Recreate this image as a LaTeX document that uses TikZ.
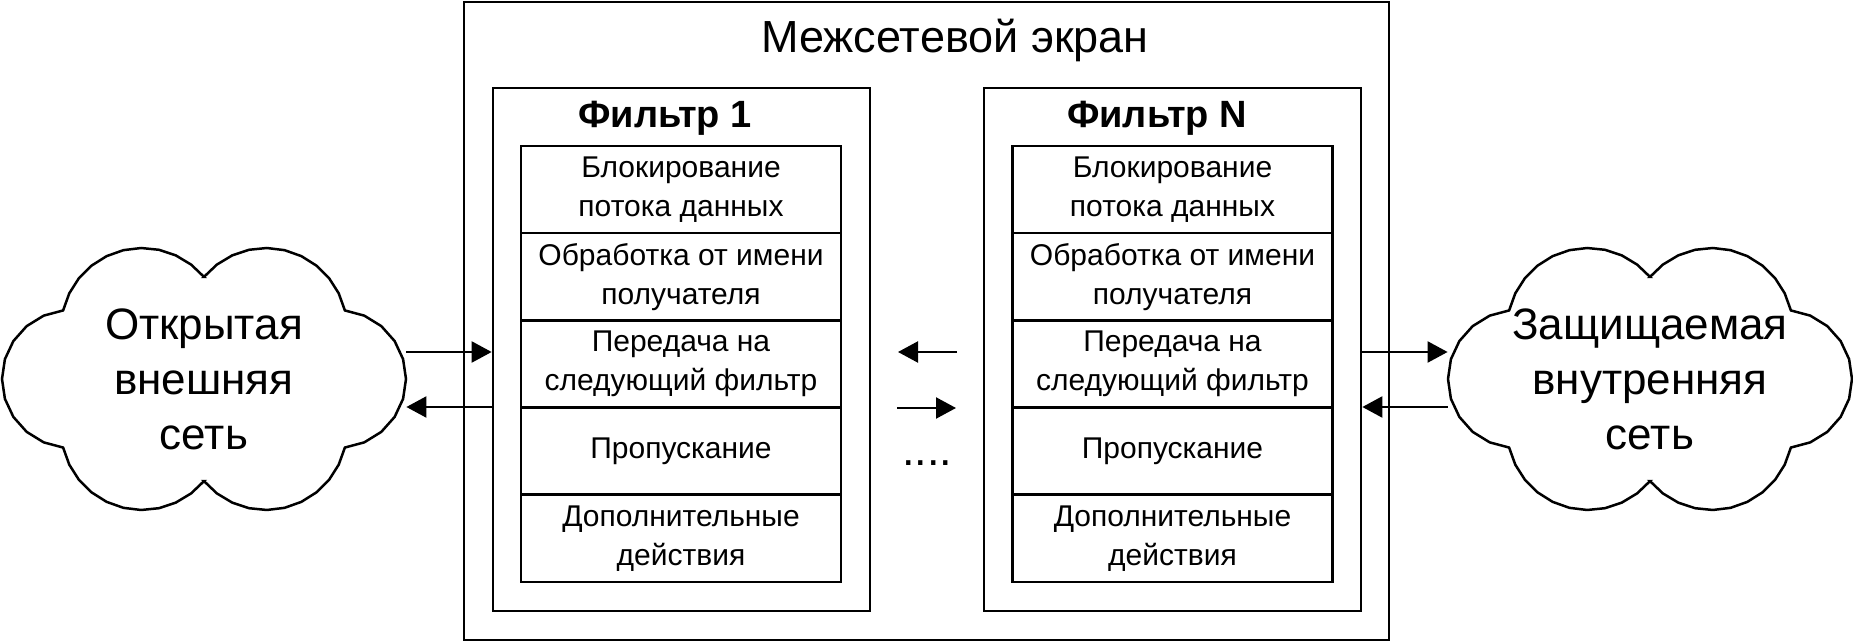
\documentclass[tikz,border=0pt]{standalone}
\usepackage{fontspec}
\setmainfont{Liberation Sans}
\usetikzlibrary{arrows.meta}
\newcommand\cloudoutline[1]{%
\draw[cloudline,shift={(#1)}]
 plot[domain=193.5:320,samples=11] ({-62+81*cos(\x)},{-50+81*sin(\x)})
 -- plot[domain=-140:-13.5,samples=11] ({62+81*cos(\x)},{-50+81*sin(\x)})
 -- plot[domain=-83.4:83.4,samples=11] ({133+69*cos(\x)},{69*sin(\x)})
 -- plot[domain=13.5:140,samples=11] ({62+81*cos(\x)},{50+81*sin(\x)})
 -- plot[domain=40:166.5,samples=11] ({-62+81*cos(\x)},{50+81*sin(\x)})
 -- plot[domain=96.6:263.4,samples=11] ({-133+69*cos(\x)},{69*sin(\x)})
 -- cycle;}
\begin{document}
\begin{tikzpicture}[x=0.5pt,y=-0.5pt,
  box/.style={draw, line width=1.35pt, inner sep=0pt},
  row/.style={draw, line width=1.35pt, minimum width=160pt, minimum height=43.6pt, inner sep=0pt, align=center, font=\fontsize{15}{19.5}\selectfont},
  arr/.style={line width=1.1pt, -{Triangle[length=10pt,width=10.5pt]}},
  cloudtext/.style={minimum width=202pt, minimum height=131pt, inner sep=0pt, align=center, font=\fontsize{22}{27.5}\selectfont},
  cloudline/.style={line width=1.25pt, line join=miter},
  bigtext/.style={font=\fontsize{22.5}{26}\selectfont, inner sep=0pt},
  head/.style={font=\fontsize{19}{22}\selectfont\bfseries, inner sep=0pt}
]
\useasboundingbox (0,0) rectangle (1853,641);
% firewall
\node[box, minimum width=462.5pt, minimum height=319pt] (fw) at (926.5,321) {};
\node[bigtext, anchor=base] (title) at (955,53) {Межсетевой экран};
% filters
\node[box, minimum width=188.5pt, minimum height=261.5pt] (f1) at (681.5,349.5) {};
\node[box, minimum width=188.5pt, minimum height=261.5pt] (fN) at (1172.5,349.5) {};
\node[head, anchor=base] (h1) at (665,128) {Фильтр 1};
\node[head, anchor=base] (hN) at (1157,128) {Фильтр N};
\foreach \f/\cx in {a/681, b/1172.5} {
  \node[row] (\f1) at (\cx,189.5) {Блокирование\\потока данных};
  \node[row] (\f2) at (\cx,276.7) {Обработка от имени\\получателя};
  \node[row] (\f3) at (\cx,363.9) {Передача на\\следующий фильтр};
  \node[row] (\f4) at (\cx,451.1) {Пропускание};
  \node[row] (\f5) at (\cx,538.3) {Дополнительные\\действия};
}
% clouds
\node[cloudtext] (net1) at (204,379) {Открытая\\внешняя\\сеть};
\node[cloudtext] (net2) at (1650,379) {Защищаемая\\внутренняя\\сеть};
\cloudoutline{net1.center}
\cloudoutline{net2.center}
% arrows
\coordinate (yA) at (0,352);
\coordinate (yB) at (0,407);
\draw[arr] (net1.east |- yA) -- (f1.west |- yA);
\draw[arr] (f1.west |- yB) -- (net1.east |- yB);
\draw[arr] (fN.east |- yA) -- (net2.west |- yA);
\draw[arr] (net2.west |- yB) -- (fN.east |- yB);
\coordinate (m1) at (957,352);
\coordinate (m2) at (898,352);
\coordinate (m3) at (897,408);
\coordinate (m4) at (956,408);
\draw[arr] (m1) -- (m2);
\draw[arr] (m3) -- (m4);
\node[bigtext, anchor=base] (dots) at (927,466) {....};
\end{tikzpicture}
\end{document}
